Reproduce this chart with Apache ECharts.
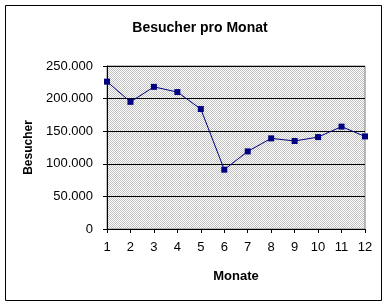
<!DOCTYPE html>
<html><head><meta charset="utf-8">
<script src="https://cdn.jsdelivr.net/npm/echarts@6/dist/echarts.min.js"></script>
<style>html,body{margin:0;padding:0;background:#fff}#c{width:391px;height:307px}</style>
</head><body><div id="c"></div>
<script>
const months = ['1','2','3','4','5','6','7','8','9','10','11','12'];
const visitors = [226000, 195000, 218000, 210000, 184000, 91000, 119000, 139000, 135000, 141000, 157000, 142000];
const yTicks = [0, 50000, 100000, 150000, 200000, 250000];

const pc = document.createElement('canvas');
pc.width = 2; pc.height = 2;
const px = pc.getContext('2d');
px.fillStyle = '#ffffff'; px.fillRect(0,0,2,2);
px.fillStyle = '#c0c0c0'; px.fillRect(0,0,1,1); px.fillRect(1,1,1,1);

const font = 'Liberation Sans, Arial, sans-serif';
const chart = echarts.init(document.getElementById('c'), null, {renderer:'canvas'});
chart.setOption({
  animation: false,
  backgroundColor: '#ffffff',
  title: {
    text: 'Besucher pro Monat', left: 195, top: 16, textAlign: 'center',
    textStyle: {fontFamily: font, fontSize: 14, fontWeight: 'bold', color: '#000'}
  },
  graphic: [{
    type: 'rect', shape: {x: 5.5, y: 5.5, width: 376, height: 295}, silent: true,
    style: {fill: 'none', stroke: '#000', lineWidth: 1}, z: 100
  }],
  grid: {
    left: 107, right: 26, top: 66, bottom: 78, show: true,
    backgroundColor: {image: pc, repeat: 'repeat'},
    borderColor: '#808080', borderWidth: 1
  },
  xAxis: {
    type: 'category', data: months, boundaryGap: false,
    name: 'Monate', nameLocation: 'middle', nameGap: 41,
    nameTextStyle: {fontFamily: font, fontSize: 13, fontWeight: 'bold', color: '#000'},
    axisLine: {lineStyle: {color: '#000', width: 1}},
    axisTick: {show: true, length: 4, inside: false, alignWithLabel: true, lineStyle: {color: '#000'}},
    axisLabel: {fontFamily: font, fontSize: 13, color: '#000', margin: 12},
    splitLine: {show: false}
  },
  yAxis: {
    type: 'value', min: yTicks[0], max: yTicks[yTicks.length-1], interval: yTicks[1]-yTicks[0],
    name: 'Besucher', nameLocation: 'middle', nameGap: 67, nameRotate: 90,
    nameTextStyle: {fontFamily: font, fontSize: 12, fontWeight: 'bold', color: '#000'},
    axisLine: {show: true, lineStyle: {color: '#000', width: 1}},
    axisTick: {show: true, length: 4, lineStyle: {color: '#000'}},
    axisLabel: {fontFamily: font, fontSize: 13, color: '#000', margin: 14,
      formatter: v => v === 0 ? '0' : String(v).replace(/\B(?=(\d{3})+(?!\d))/g, '.')},
    splitLine: {show: true, lineStyle: {color: '#000', width: 1}}
  },
  series: [{
    type: 'line', data: visitors,
    symbol: 'rect', symbolSize: 6,
    itemStyle: {color: '#000080'},
    lineStyle: {color: '#000080', width: 1}
  }]
});
</script></body></html>
